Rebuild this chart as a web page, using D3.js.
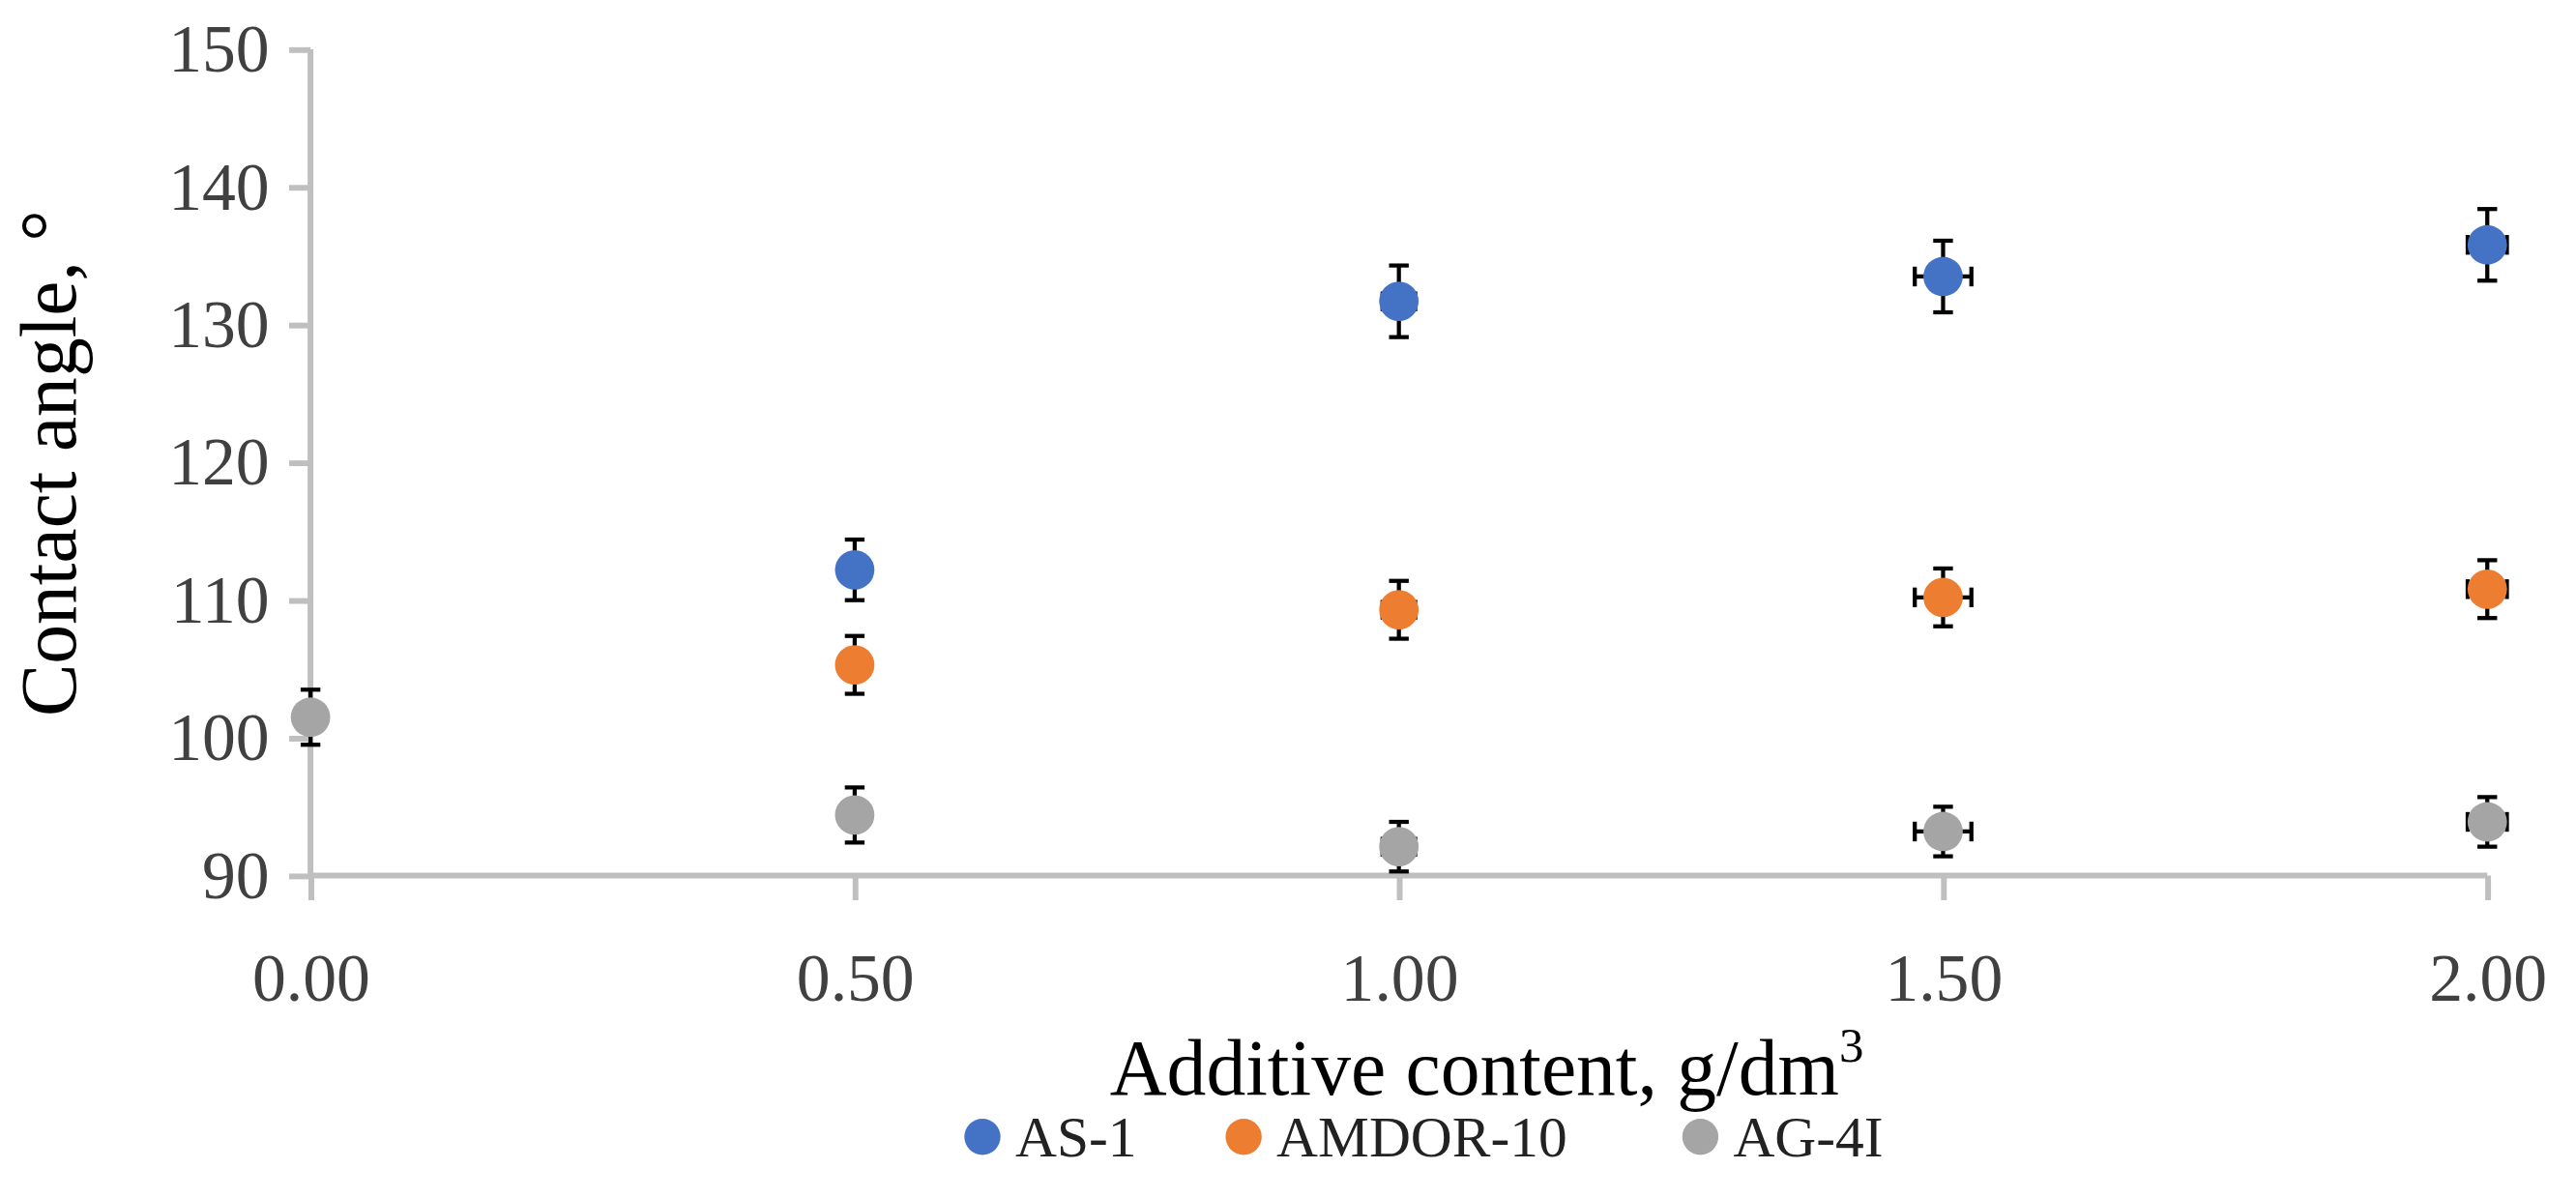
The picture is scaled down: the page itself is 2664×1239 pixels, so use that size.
<!DOCTYPE html><html><head><meta charset="utf-8"><script src="https://cdn.jsdelivr.net/npm/d3@7"></script>
<style>body{margin:0;background:#fff}</style></head><body><svg id="c" width="2664" height="1239"></svg><script>
const xVals=[0,0.5,1.0,1.5,2.0];
const xTicks=["0.00","0.50","1.00","1.50","2.00"];
const yTicks=[90,100,110,120,130,140,150];
const seriesNames=["AS-1","AMDOR-10","AG-4I"];
const colors=["#4472c4","#ed7d31","#a5a5a5"];
const as1=[null,112.2,131.7,133.5,135.8];
const amdor=[null,105.3,109.3,110.2,110.8];
const ag4i=[101.5,94.4,92.1,93.2,93.9];
const yErr=[[0,2.2,2.6,2.6,2.6],[0,2.1,2.1,2.1,2.1],[2.0,2.0,1.8,1.8,1.8]];
const xErr=[0,0,0.015,0.026,0.018];
const s=2664/1568;
const svg=d3.select("#c");
const g=svg.append("g").attr("transform",`scale(${s})`);
const x=d3.scaleLinear().domain([0,2]).range([189,1514]);
const y=d3.scaleLinear().domain([90,150]).range([533,30]);
const ac="#bfbfbf",font="'Liberation Serif','DejaVu Serif',serif";
const ya=g.append("g").attr("transform","translate(189,0)").call(d3.axisLeft(y).tickValues(yTicks).tickSize(13).tickPadding(12));
const xa=g.append("g").attr("transform","translate(0,533)").call(d3.axisBottom(x).tickValues(xVals).tickFormat((d,i)=>xTicks[i]).tickSize(15).tickPadding(32));
[ya,xa].forEach(a=>{a.select(".domain").attr("stroke",ac).attr("stroke-width",3.5);a.selectAll(".tick line").attr("stroke",ac).attr("stroke-width",3.5);a.selectAll("text").attr("font-family",font).attr("font-size",41).attr("fill","#404040");});
ya.select(".domain").attr("d","M0,30V533");
xa.select(".domain").attr("d","M189,0H1514");
const data=[as1,amdor,ag4i];
data.forEach((ser,si)=>{
 ser.forEach((v,i)=>{
  if(v==null)return;
  const cx=x(xVals[i]),cy=y(v),e=yErr[si][i],xe=xErr[i];
  const eg=g.append("g").attr("stroke","#000").attr("stroke-width",2.5);
  eg.append("line").attr("x1",cx).attr("x2",cx).attr("y1",y(v+e)).attr("y2",y(v-e));
  [v+e,v-e].forEach(t=>eg.append("line").attr("x1",cx-6).attr("x2",cx+6).attr("y1",y(t)).attr("y2",y(t)));
  if(xe>0){const x1=x(xVals[i]-xe),x2=x(xVals[i]+xe);
   eg.append("line").attr("x1",x1).attr("x2",x2).attr("y1",cy).attr("y2",cy);
   [x1,x2].forEach(t=>eg.append("line").attr("x1",t).attr("x2",t).attr("y1",cy-6).attr("y2",cy+6));}
  g.append("circle").attr("cx",cx).attr("cy",cy).attr("r",12).attr("fill",colors[si]);
 });
});
g.append("text").attr("transform","translate(46,282) rotate(-90)").attr("text-anchor","middle").attr("font-family",font).attr("font-size",48).attr("fill","#000").text("Contact angle, °");
const xt=g.append("text").attr("x",905).attr("y",666).attr("text-anchor","middle").attr("font-family",font).attr("font-size",48).attr("fill","#000").text("Additive content, g/dm");
xt.append("tspan").attr("font-size",30).attr("dy",-20).text("3");
const lx=[598,757,1035];
seriesNames.forEach((n,i)=>{
 g.append("circle").attr("cx",lx[i]).attr("cy",692).attr("r",11).attr("fill",colors[i]);
 g.append("text").attr("x",lx[i]+20).attr("y",704).attr("font-family",font).attr("font-size",35).attr("fill","#222").text(n);
});
</script></body></html>
